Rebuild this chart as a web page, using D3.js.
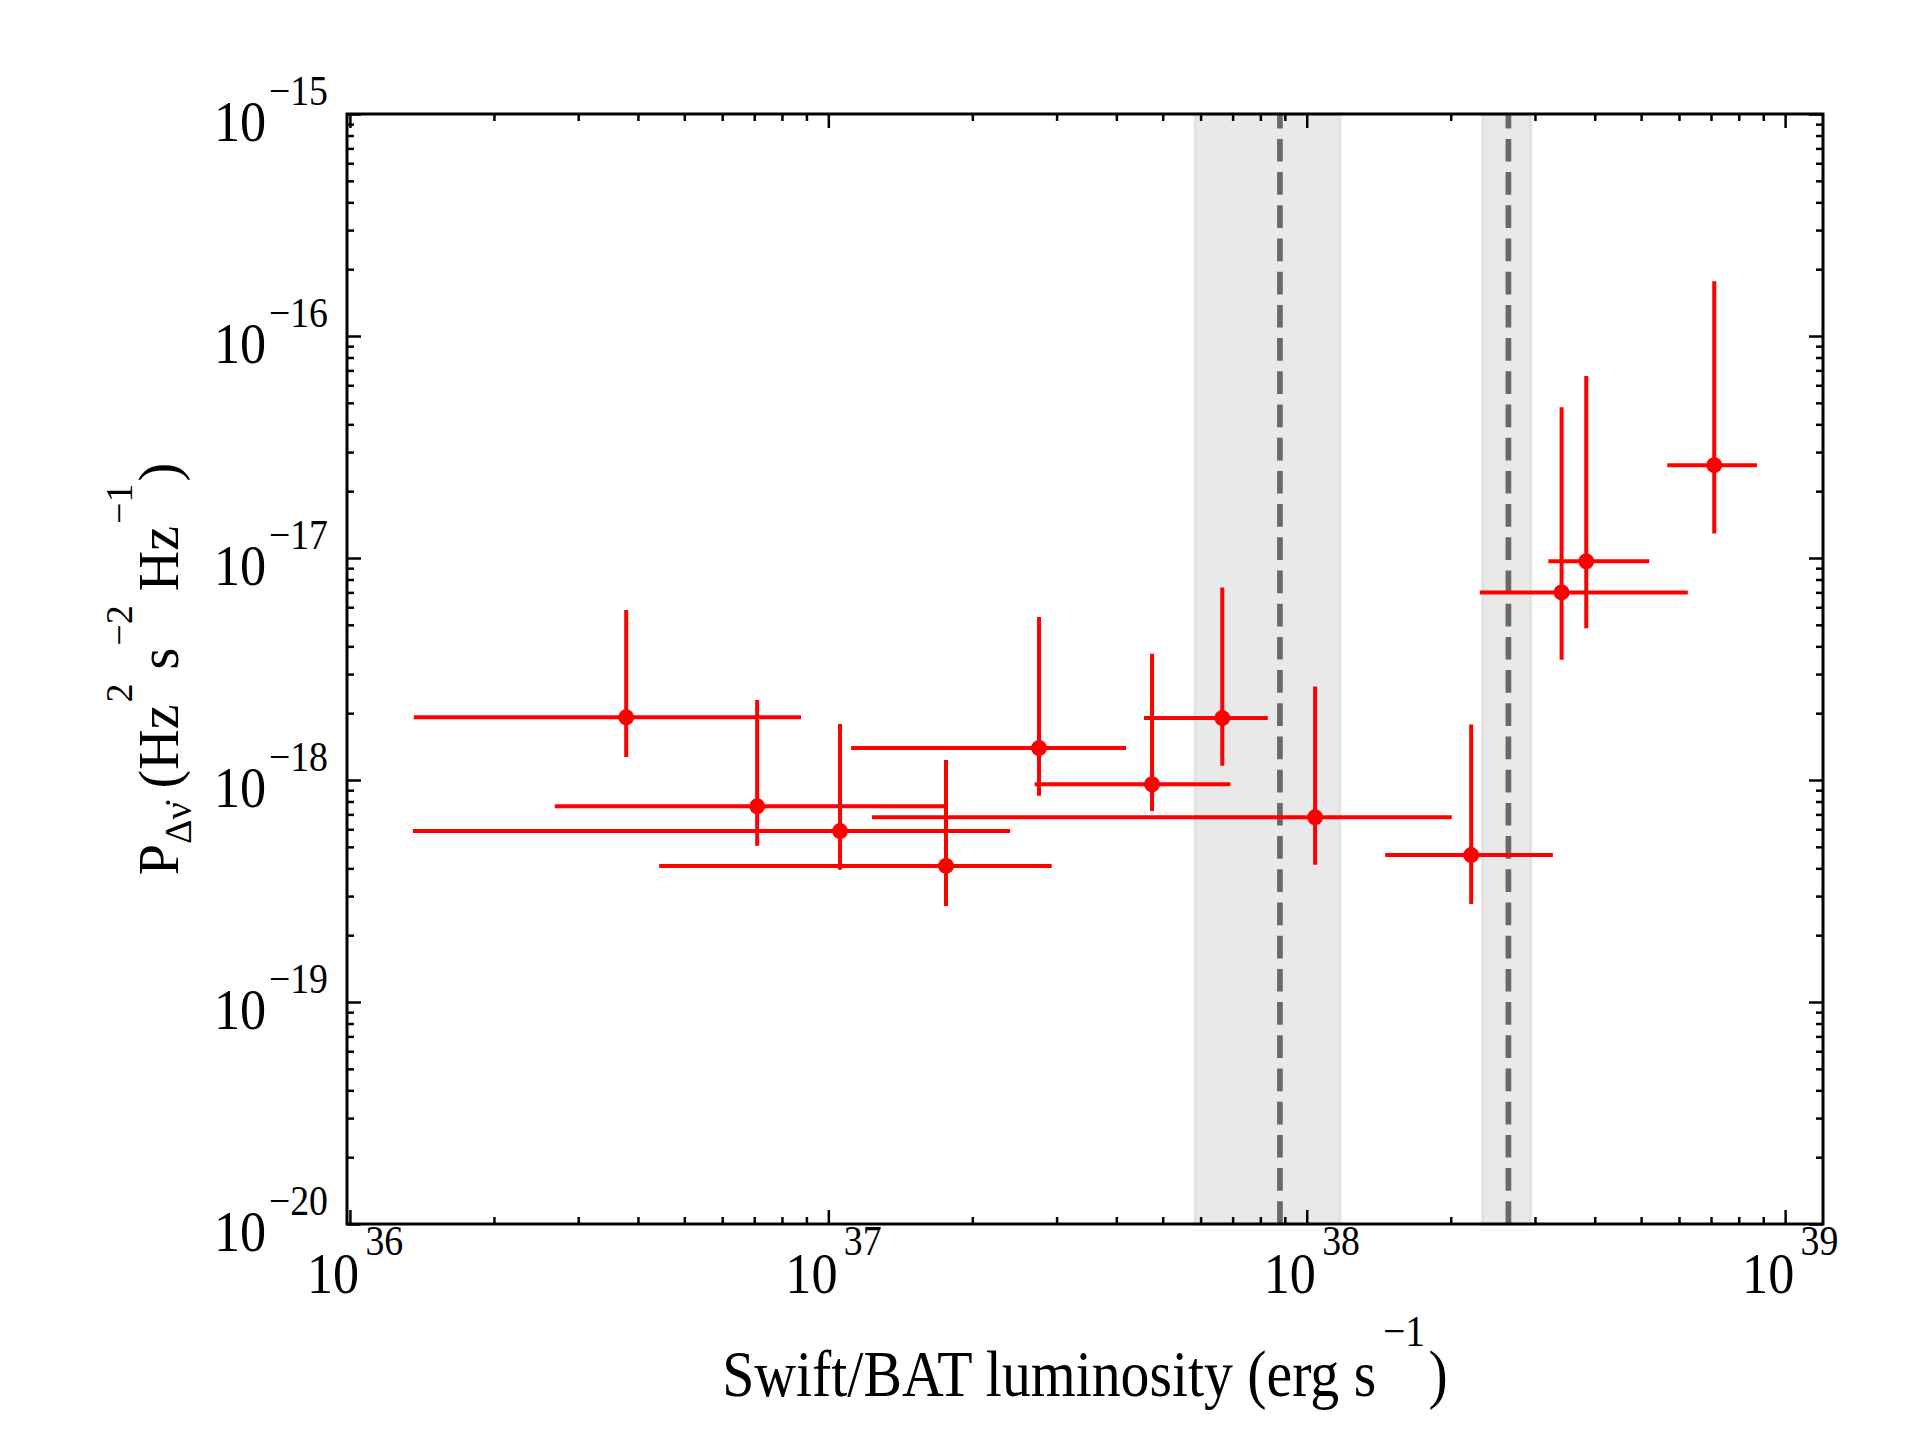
<!DOCTYPE html>
<meta charset="utf-8">
<style>
  body { margin: 0; background: #fff; }
  text { font-family: "Liberation Serif", "Times New Roman", serif; fill: #000; }
  .tick line { stroke: #000; stroke-width: 2.5; }
</style>
<body>
<div id="chart"></div>
<script src="https://cdn.jsdelivr.net/npm/d3@7"></script>
<script>
// Swift/BAT luminosity (erg s^-1) with lower / upper bin edges
var lum    = [3.78e36, 7.10e36, 1.058e37, 1.762e37, 2.757e37, 4.75e37, 6.66e37, 1.041e38, 2.207e38, 3.41e38, 3.84e38, 7.11e38];
var lumLo  = [1.36e36, 2.68e36, 1.354e36, 4.43e36, 1.116e37, 2.70e37, 4.57e37, 1.234e37, 1.459e38, 2.30e38, 3.20e38, 5.67e38];
var lumHi  = [8.77e36, 1.746e37, 2.40e37, 2.93e37, 4.19e37, 6.92e37, 8.29e37, 2.01e38, 3.27e38, 6.26e38, 5.20e38, 8.73e38];

// power of the spin-up rate noise, with lower / upper errors
var power   = [1.915e-18, 7.61e-19, 5.89e-19, 4.10e-19, 1.393e-18, 9.57e-19, 1.90e-18, 6.79e-19, 4.59e-19, 7.00e-18, 9.66e-18, 2.62e-17];
var powerLo = [1.27e-18, 5.06e-19, 3.94e-19, 2.71e-19, 8.50e-19, 7.25e-19, 1.16e-18, 4.15e-19, 2.76e-19, 3.48e-18, 4.82e-18, 1.29e-17];
var powerHi = [5.83e-18, 2.29e-18, 1.787e-18, 1.23e-18, 5.42e-18, 3.70e-18, 7.36e-18, 2.64e-18, 1.78e-18, 4.77e-17, 6.61e-17, 1.764e-16];

// shaded luminosity ranges and their dashed centre lines
var bandLo   = [5.84e37, 2.33e38];
var bandHi   = [1.174e38, 2.94e38];
var bandLine = [8.79e37, 2.64e38];

// tick labels (exponents of ten)
var xExp = [36, 37, 38, 39];
var yExp = [-15, -16, -17, -18, -19, -20];

var width = 1920, height = 1440;
var margin = {top: 114, right: 97, bottom: 216, left: 347};
var squeeze = 0.9;   // the original lettering is a little narrow

var x = d3.scaleLog()
    .domain([9.86e35, 1.2e39])
    .range([margin.left, width - margin.right]);

var y = d3.scaleLog()
    .domain([1e-20, 1e-15])
    .range([height - margin.bottom, margin.top]);

var svg = d3.select("#chart")
    .append("svg")
    .attr("width", width)
    .attr("height", height);

// bands
svg.append("g").selectAll("rect")
    .data(bandLo)
  .enter().append("rect")
    .attr("x", function(d) { return x(d); })
    .attr("y", y(1e-15))
    .attr("width", function(d, i) { return x(bandHi[i]) - x(d); })
    .attr("height", y(1e-20) - y(1e-15))
    .style("fill", "#d3d3d3")
    .style("fill-opacity", 0.5)
    .style("stroke", "#d3d3d3")
    .style("stroke-opacity", 0.5)
    .style("stroke-width", 3);

svg.append("g").selectAll("line")
    .data(bandLine)
  .enter().append("line")
    .attr("x1", function(d) { return x(d); })
    .attr("x2", function(d) { return x(d); })
    .attr("y1", y(1e-20))
    .attr("y2", y(1e-15))
    .style("stroke", "#696969")
    .style("stroke-width", 5.7)
    .style("stroke-dasharray", "22.7,10.5");

// error bars
var pts = svg.append("g");
pts.selectAll(".xerr")
    .data(lum)
  .enter().append("line")
    .attr("class", "xerr")
    .attr("x1", function(d, i) { return x(lumLo[i]); })
    .attr("x2", function(d, i) { return x(lumHi[i]); })
    .attr("y1", function(d, i) { return y(power[i]); })
    .attr("y2", function(d, i) { return y(power[i]); })
    .style("stroke", "#ff0000")
    .style("stroke-width", 4);

pts.selectAll(".yerr")
    .data(lum)
  .enter().append("line")
    .attr("class", "yerr")
    .attr("x1", function(d) { return x(d); })
    .attr("x2", function(d) { return x(d); })
    .attr("y1", function(d, i) { return y(powerLo[i]); })
    .attr("y2", function(d, i) { return y(powerHi[i]); })
    .style("stroke", "#ff0000")
    .style("stroke-width", 4);

pts.selectAll("circle")
    .data(lum)
  .enter().append("circle")
    .attr("cx", function(d) { return x(d); })
    .attr("cy", function(d, i) { return y(power[i]); })
    .attr("r", 8)
    .style("fill", "#ff0000");

// ticks, inward on all four sides
function isDecade(v) { return Math.abs(Math.log10(v) - Math.round(Math.log10(v))) < 1e-6; }
var xMajor = x.ticks().filter(isDecade), xMinor = x.ticks().filter(function(v) { return !isDecade(v); });
var yMajor = y.ticks().filter(isDecade), yMinor = y.ticks().filter(function(v) { return !isDecade(v); });

function ticks(axis, tx, ty) {
  [[axis.major, -14], [axis.minor, -7]].forEach(function(t) {
    svg.append("g")
        .attr("transform", "translate(" + tx + "," + ty + ")")
        .call(axis.gen.tickValues(t[0]).tickSize(t[1]).tickFormat(""))
        .call(function(g) { g.select(".domain").remove(); });
  });
}
ticks({gen: d3.axisBottom(x), major: xMajor, minor: xMinor}, 0, height - margin.bottom);
ticks({gen: d3.axisTop(x), major: xMajor, minor: xMinor}, 0, margin.top);
ticks({gen: d3.axisLeft(y), major: yMajor, minor: yMinor}, margin.left, 0);
ticks({gen: d3.axisRight(y), major: yMajor, minor: yMinor}, width - margin.right, 0);

svg.append("rect")
    .attr("x", margin.left)
    .attr("y", margin.top)
    .attr("width", width - margin.left - margin.right)
    .attr("height", height - margin.top - margin.bottom)
    .style("fill", "none")
    .style("stroke", "#000")
    .style("stroke-width", 3);

// tick labels
svg.append("g").selectAll("text")
    .data(xExp)
  .enter().append("text")
    .attr("transform", function(d) {
      return "translate(" + (x(Math.pow(10, d)) - 43) + "," + (height - margin.bottom + 69) + ") scale(" + squeeze + ",1)";
    })
    .style("font-size", "58px")
    .each(function(d) {
      var t = d3.select(this);
      t.append("tspan").text("10");
      t.append("tspan").attr("dx", 7).attr("dy", -38).style("font-size", "42px").text(d);
    });

svg.append("g").selectAll("text")
    .data(yExp)
  .enter().append("text")
    .attr("transform", function(d) {
      return "translate(" + (margin.left - 19) + "," + (y(Math.pow(10, d)) + 27) + ") scale(" + squeeze + ",1)";
    })
    .attr("text-anchor", "end")
    .style("font-size", "58px")
    .each(function(d) {
      var t = d3.select(this);
      t.append("tspan").text("10");
      t.append("tspan").attr("dx", 3).attr("dy", -36).style("font-size", "42px").text("\u2212" + (-d));
    });

// axis labels
var cx = (margin.left + width - margin.right) / 2;
var xl = svg.append("text")
    .attr("transform", "translate(" + cx + "," + (height - margin.bottom + 172) + ") scale(0.875,1)")
    .attr("text-anchor", "middle")
    .style("font-size", "66px");
xl.append("tspan").text("Swift/BAT luminosity (erg s");
xl.append("tspan").attr("dx", 8).attr("dy", -50).style("font-size", "45px").text("\u22121");
xl.append("tspan").attr("dx", 4).attr("dy", 50).text(")");

var cy = (margin.top + height - margin.bottom) / 2;
var yl = svg.append("text")
    .attr("transform", "translate(178," + cy + ") rotate(-90)")
    .attr("text-anchor", "middle")
    .style("font-size", "56px");
yl.append("tspan").text("P");
yl.append("tspan").attr("dy", 13).style("font-size", "38px").text("\u0394\u03bd\u0307");
yl.append("tspan").attr("dy", -13).text(" (Hz");
yl.append("tspan").attr("dx", 2).attr("dy", -46).style("font-size", "38px").text("2");
yl.append("tspan").attr("dy", 46).text(" s");
yl.append("tspan").attr("dx", 2).attr("dy", -46).style("font-size", "38px").text("\u22122");
yl.append("tspan").attr("dy", 46).text(" Hz");
yl.append("tspan").attr("dx", 2).attr("dy", -46).style("font-size", "38px").text("\u22121");
yl.append("tspan").attr("dx", 2).attr("dy", 46).text(")");
</script>
</body>
